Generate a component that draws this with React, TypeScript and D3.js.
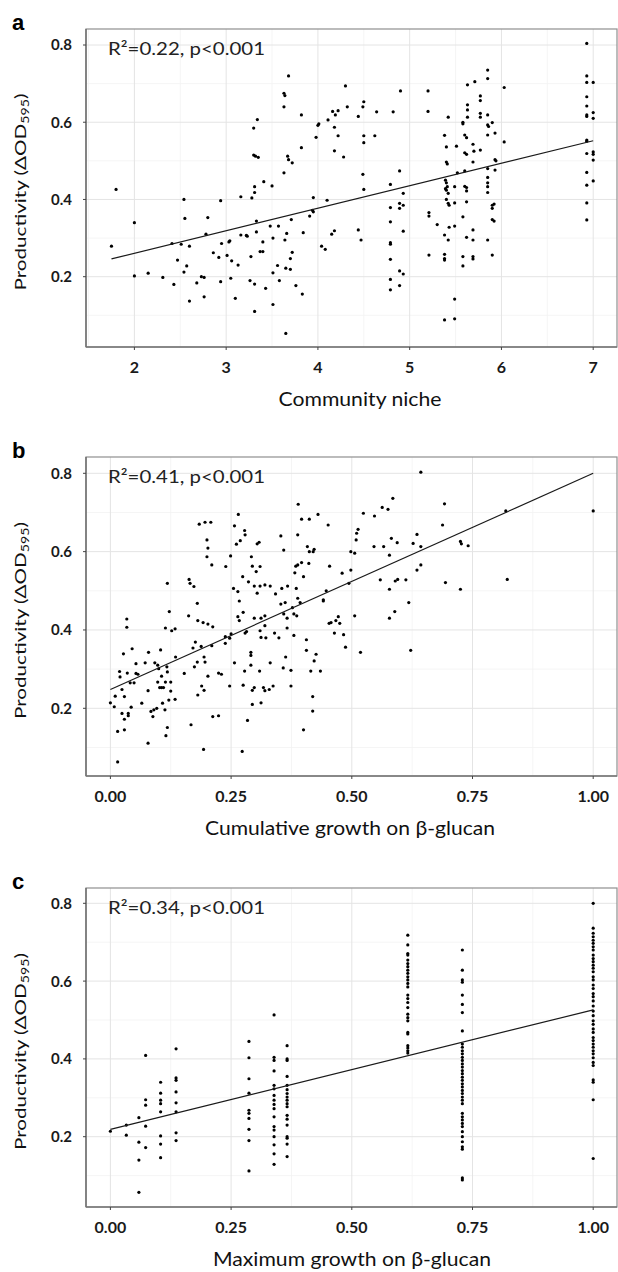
import * as d3 from "d3";

// ---- data ----
const nicheTicks = [2, 3, 4, 5, 6, 7];
const growthTicks = [0, 0.25, 0.5, 0.75, 1];
const yTicks = [0.2, 0.4, 0.6, 0.8];

// panel a: community niche vs productivity
const nicheData: [number, number][] = [
  [6.93,0.804],[3.68,0.72],[3.63,0.675],[3.64,0.669],[3.63,0.64],[3.30,0.585],[3.34,0.607],[3.82,0.619],[4.0,0.592],[4.01,0.596],
  [3.98,0.561],[4.11,0.606],[4.16,0.628],[4.19,0.619],[4.22,0.63],[4.18,0.587],[4.22,0.565],[4.30,0.694],[4.32,0.64],[4.44,0.615],
  [4.49,0.64],[4.50,0.653],[4.50,0.565],[4.62,0.565],[4.64,0.627],[4.82,0.627],[4.90,0.681],[5.20,0.681],[5.20,0.628],[5.38,0.566],
  [5.42,0.613],[5.58,0.60],[5.58,0.596],[5.60,0.567],[5.62,0.56],[5.63,0.697],[5.63,0.645],[5.63,0.632],[5.63,0.613],[5.71,0.705],
  [5.77,0.668],[5.77,0.656],[5.77,0.623],[5.77,0.613],[5.85,0.735],[5.85,0.713],[5.85,0.619],[5.85,0.593],[5.86,0.589],[5.85,0.567],
  [5.90,0.599],[5.93,0.572],[6.03,0.69],[6.93,0.72],[6.93,0.703],[7.0,0.703],[6.93,0.666],[6.93,0.642],[6.93,0.619],[6.93,0.615],
  [7.0,0.625],[7.0,0.61],[6.93,0.554],
  [1.75,0.279],[1.80,0.426],[2.0,0.34],[2.0,0.202],[2.15,0.209],[2.31,0.198],[2.41,0.286],[2.43,0.18],[2.47,0.243],[2.51,0.284],
  [2.54,0.40],[2.55,0.351],[2.54,0.212],[2.57,0.228],[2.60,0.279],[2.60,0.137],[2.68,0.184],[2.73,0.20],[2.76,0.198],[2.76,0.148],
  [2.78,0.31],[2.80,0.353],[2.86,0.262],[2.92,0.25],[2.94,0.397],[2.94,0.187],[2.95,0.286],[3.01,0.255],[3.03,0.29],[3.04,0.293],
  [3.05,0.196],[3.06,0.241],[3.10,0.144],[3.13,0.23],[3.16,0.407],[3.16,0.308],[3.22,0.307],[3.23,0.305],[3.27,0.252],[3.26,0.19],
  [3.28,0.404],[3.31,0.418],[3.31,0.433],[3.30,0.515],[3.32,0.512],[3.35,0.509],[3.31,0.181],[3.31,0.11],[3.33,0.344],[3.33,0.316],
  [3.37,0.265],[3.40,0.265],[3.40,0.29],[3.41,0.446],[3.43,0.17],[3.48,0.331],[3.50,0.435],[3.51,0.30],[3.51,0.128],[3.51,0.21],
  [3.56,0.229],[3.57,0.331],[3.58,0.19],[3.63,0.469],[3.64,0.295],[3.66,0.312],[3.65,0.222],[3.70,0.219],[3.67,0.512],[3.68,0.503],
  [3.72,0.495],[3.70,0.247],[3.71,0.348],[3.72,0.263],[3.76,0.177],[3.82,0.534],[3.83,0.155],[3.84,0.314],[3.91,0.357],[3.94,0.372],
  [3.95,0.368],[3.95,0.405],[4.04,0.279],[4.08,0.271],[4.10,0.398],[4.15,0.31],[4.18,0.319],[4.18,0.526],[4.28,0.51],[4.44,0.321],
  [4.47,0.295],[4.49,0.465],[4.50,0.426],[4.50,0.547],[4.79,0.439],[4.79,0.379],[4.79,0.342],[4.79,0.288],[4.79,0.284],[4.79,0.245],
  [4.79,0.193],[4.79,0.166],[4.89,0.474],[4.89,0.39],[4.89,0.377],[4.93,0.385],[4.93,0.416],[4.93,0.318],[4.89,0.215],[4.93,0.207],
  [4.89,0.177],[5.21,0.366],[5.21,0.357],[5.21,0.256],[5.30,0.335],[5.40,0.536],[5.40,0.497],[5.41,0.492],[5.39,0.45],[5.40,0.443],
  [5.41,0.433],[5.39,0.428],[5.40,0.424],[5.42,0.416],[5.40,0.40],[5.42,0.39],[5.43,0.385],[5.38,0.308],[5.42,0.295],[5.43,0.328],
  [5.38,0.258],[5.38,0.247],[5.38,0.243],[5.38,0.088],[5.49,0.091],[5.49,0.142],[5.49,0.331],[5.49,0.433],[5.49,0.391],[5.51,0.538],
  [5.52,0.469],[5.58,0.355],[5.58,0.252],[5.58,0.228],[5.60,0.521],[5.62,0.517],[5.60,0.474],[5.60,0.434],[5.62,0.431],[5.62,0.422],
  [5.62,0.394],[5.62,0.302],[5.69,0.543],[5.70,0.525],[5.69,0.497],[5.69,0.321],[5.69,0.295],[5.69,0.252],[5.69,0.246],[5.77,0.528],
  [5.85,0.48],[5.85,0.457],[5.85,0.443],[5.85,0.433],[5.85,0.418],[5.85,0.295],[5.90,0.256],[5.90,0.385],[5.90,0.377],[5.92,0.388],
  [5.90,0.348],[5.92,0.344],[5.93,0.503],[5.94,0.50],[5.93,0.476],[6.03,0.549],[6.93,0.551],[6.93,0.519],[7.0,0.523],[7.0,0.517],
  [7.0,0.502],[6.93,0.47],[6.93,0.437],[7.0,0.448],[6.93,0.391],[6.93,0.347],[3.65,0.053],
];

// panel b: cumulative growth on beta-glucan
const cumulativeData: [number, number][] = [
  [0.643,0.803],[1.0,0.704],[0.819,0.704],[0.822,0.529],[0.692,0.722],[0.688,0.668],[0.694,0.521],[0.725,0.504],[0.725,0.626],[0.727,0.62],
  [0.741,0.615],[0.585,0.736],[0.563,0.713],[0.575,0.708],[0.547,0.691],[0.524,0.698],[0.546,0.613],[0.566,0.613],[0.582,0.634],[0.594,0.623],
  [0.578,0.591],[0.559,0.528],[0.578,0.504],[0.590,0.525],[0.595,0.529],[0.612,0.528],[0.627,0.621],[0.635,0.644],[0.643,0.613],[0.635,0.553],
  [0.643,0.566],[0.509,0.63],[0.513,0.657],[0.510,0.647],[0.498,0.60],[0.506,0.596],[0.494,0.519],[0.480,0.545],[0.498,0.553],[0.430,0.695],
  [0.451,0.668],[0.454,0.563],[0.389,0.721],[0.396,0.683],[0.412,0.683],[0.388,0.643],[0.396,0.572],[0.400,0.536],[0.408,0.613],[0.412,0.60],
  [0.422,0.606],[0.420,0.60],[0.411,0.57],[0.384,0.563],[0.388,0.566],[0.382,0.546],[0.385,0.506],[0.388,0.481],[0.441,0.477],[0.447,0.50],
  [0.353,0.64],[0.359,0.604],[0.355,0.506],[0.367,0.512],[0.342,0.492],[0.331,0.512],[0.310,0.512],[0.265,0.695],[0.257,0.666],[0.261,0.619],
  [0.269,0.628],[0.278,0.654],[0.279,0.643],[0.249,0.589],[0.255,0.506],[0.264,0.498],[0.274,0.536],[0.286,0.523],[0.292,0.587],[0.294,0.563],
  [0.302,0.549],[0.310,0.562],[0.304,0.62],[0.308,0.624],[0.298,0.512],[0.304,0.494],[0.320,0.515],[0.239,0.562],[0.196,0.675],[0.208,0.675],
  [0.20,0.63],[0.202,0.609],[0.20,0.587],[0.210,0.566],[0.184,0.67],[0.118,0.519],[0.163,0.529],[0.165,0.519],[0.173,0.511],
  [0.015,0.063],[0.0,0.214],[0.008,0.204],[0.010,0.231],[0.015,0.141],[0.019,0.294],[0.020,0.28],[0.024,0.248],[0.027,0.339],[0.029,0.23],
  [0.024,0.187],[0.029,0.172],[0.029,0.145],[0.034,0.428],[0.034,0.407],[0.035,0.29],[0.037,0.187],[0.037,0.181],[0.041,0.265],[0.045,0.352],
  [0.043,0.203],[0.049,0.265],[0.053,0.314],[0.053,0.289],[0.057,0.287],[0.065,0.213],[0.072,0.316],[0.079,0.343],[0.078,0.245],[0.078,0.111],
  [0.084,0.192],[0.090,0.196],[0.088,0.179],[0.092,0.316],[0.096,0.20],[0.098,0.267],[0.098,0.31],[0.100,0.301],[0.102,0.253],[0.106,0.253],
  [0.104,0.349],[0.106,0.282],[0.108,0.213],[0.110,0.253],[0.113,0.196],[0.114,0.405],[0.114,0.267],[0.115,0.13],[0.117,0.306],[0.118,0.293],
  [0.118,0.151],[0.121,0.221],[0.122,0.447],[0.125,0.267],[0.125,0.244],[0.127,0.398],[0.134,0.403],[0.135,0.331],[0.134,0.223],[0.153,0.289],
  [0.162,0.436],[0.167,0.158],[0.171,0.354],[0.176,0.369],[0.174,0.306],[0.180,0.318],[0.180,0.468],[0.181,0.424],[0.181,0.234],[0.188,0.358],
  [0.189,0.257],[0.194,0.246],[0.192,0.419],[0.193,0.095],[0.196,0.318],[0.194,0.331],[0.202,0.415],[0.202,0.282],[0.210,0.36],[0.212,0.408],
  [0.212,0.179],[0.224,0.181],[0.224,0.29],[0.230,0.287],[0.238,0.366],[0.238,0.383],[0.247,0.379],[0.250,0.39],[0.247,0.257],[0.257,0.316],
  [0.264,0.434],[0.267,0.474],[0.267,0.424],[0.273,0.09],[0.275,0.445],[0.275,0.259],[0.278,0.295],[0.279,0.392],[0.282,0.396],[0.284,0.169],
  [0.291,0.343],[0.291,0.335],[0.291,0.31],[0.294,0.246],[0.298,0.253],[0.294,0.21],[0.298,0.43],[0.309,0.295],[0.310,0.398],[0.312,0.43],
  [0.312,0.381],[0.312,0.214],[0.317,0.253],[0.320,0.245],[0.320,0.436],[0.320,0.411],[0.322,0.38],[0.329,0.248],[0.331,0.316],[0.337,0.257],
  [0.340,0.392],[0.349,0.38],[0.353,0.466],[0.358,0.303],[0.359,0.441],[0.362,0.47],[0.363,0.331],[0.366,0.43],[0.366,0.405],[0.374,0.257],
  [0.374,0.297],[0.377,0.457],[0.380,0.441],[0.380,0.386],[0.386,0.436],[0.393,0.47],[0.400,0.145],[0.406,0.375],[0.406,0.348],[0.415,0.295],
  [0.419,0.23],[0.419,0.193],[0.422,0.321],[0.426,0.338],[0.435,0.295],[0.441,0.474],[0.453,0.417],[0.457,0.419],[0.467,0.424],[0.464,0.392],
  [0.472,0.434],[0.475,0.417],[0.483,0.388],[0.487,0.356],[0.506,0.436],[0.518,0.343],[0.578,0.43],[0.589,0.447],[0.618,0.47],[0.622,0.348],
];

// panel c: maximum growth on beta-glucan (discrete levels)
const maxGrowthLevels = [0, 0.033, 0.059, 0.073, 0.104, 0.136, 0.287, 0.339, 0.366, 0.616, 0.729, 1.0];
const maxGrowthValues: number[][] = [
  [0.214],
  [0.230, 0.204],
  [0.249, 0.186, 0.140, 0.057],
  [0.409, 0.295, 0.281, 0.227, 0.172],
  [0.340, 0.312, 0.294, 0.285, 0.264, 0.202, 0.181, 0.146],
  [0.426, 0.351, 0.345, 0.315, 0.287, 0.264, 0.210, 0.190],
  [0.445, 0.403, 0.349, 0.312, 0.268, 0.260, 0.247, 0.219, 0.190, 0.112],
  [0.513, 0.404, 0.396, 0.369, 0.332, 0.323, 0.306, 0.294, 0.283, 0.272, 0.251, 0.226, 0.217, 0.200, 0.179, 0.156, 0.129],
  [0.434, 0.400, 0.396, 0.355, 0.332, 0.321, 0.311, 0.302, 0.294, 0.285, 0.277, 0.255, 0.245, 0.230, 0.200, 0.196, 0.181, 0.149],
  [0.718, 0.693, 0.671, 0.667, 0.654, 0.645, 0.637, 0.628, 0.620, 0.611, 0.603, 0.594, 0.585, 0.564, 0.555, 0.545, 0.532, 0.515,
   0.506, 0.498, 0.468, 0.464, 0.434, 0.428, 0.421, 0.415],
  [0.680, 0.628, 0.603, 0.597, 0.564, 0.540, 0.519, 0.472, 0.438, 0.430, 0.421, 0.413, 0.404, 0.396, 0.387, 0.379, 0.370, 0.362,
   0.353, 0.345, 0.336, 0.328, 0.319, 0.311, 0.302, 0.294, 0.285, 0.260, 0.251, 0.243, 0.234, 0.226, 0.213, 0.200, 0.187, 0.174,
   0.168, 0.094, 0.089],
  [0.800, 0.736, 0.723, 0.714, 0.705, 0.697, 0.688, 0.680, 0.667, 0.658, 0.650, 0.641, 0.633, 0.624, 0.611, 0.603, 0.590, 0.581,
   0.568, 0.560, 0.549, 0.536, 0.523, 0.511, 0.498, 0.489, 0.477, 0.468, 0.455, 0.447, 0.438, 0.430, 0.421, 0.413, 0.403, 0.391,
   0.383, 0.346, 0.340, 0.295, 0.144],
];
const maxGrowthData: [number, number][] = maxGrowthLevels.flatMap((x, i) =>
  maxGrowthValues[i].map((y) => [x, y] as [number, number])
);

// regression lines (end points)
const nicheFit: [number, number][] = [[1.75, 0.246], [7, 0.552]];
const cumulativeFit: [number, number][] = [[0, 0.248], [1, 0.8]];
const maxGrowthFit: [number, number][] = [[0, 0.219], [1, 0.526]];

const r2Labels = ["0.22", "0.41", "0.34"];
const panelLetters = ["a", "b", "c"];
const xTitles = ["Community niche", "Cumulative growth on β-glucan", "Maximum growth on β-glucan"];

// ---- layout ----
const W = 618;
const H = 1272;
const FONT = "Lato, 'Open Sans', sans-serif";
const LEFT = 86;
const RIGHT = 617;

const panels = [
  { top: 29, bottom: 347, y02: 276.7, y08: 45, data: nicheData, fit: nicheFit,
    xDomain: [2, 7], xRange: [134.4, 593.2], ticks: nicheTicks, minor: [1.5, 2.5, 3.5, 4.5, 5.5, 6.5],
    fmt: (d: number) => String(d), titleX: 360, titleLen: 163 },
  { top: 457, bottom: 776, y02: 708.3, y08: 473.3, data: cumulativeData, fit: cumulativeFit,
    xDomain: [0, 1], xRange: [110.4, 593.2], ticks: growthTicks, minor: [0.125, 0.375, 0.625, 0.875],
    fmt: d3.format(".2f"), titleX: 350, titleLen: 290 },
  { top: 888, bottom: 1207, y02: 1136.7, y08: 903.3, data: maxGrowthData, fit: maxGrowthFit,
    xDomain: [0, 1], xRange: [110.4, 593.2], ticks: growthTicks, minor: [0.125, 0.375, 0.625, 0.875],
    fmt: d3.format(".2f"), titleX: 352, titleLen: 278 },
];
const yMinor = [0.1, 0.3, 0.5, 0.7];

function Panel({ p, i }: { p: (typeof panels)[number]; i: number }) {
  const x = d3.scaleLinear().domain(p.xDomain).range(p.xRange);
  const y = d3.scaleLinear().domain([0.2, 0.8]).range([p.y02, p.y08]);
  const line = d3.line<[number, number]>().x((d) => x(d[0])).y((d) => y(d[1]));
  const inY = (v: number) => y(v) > p.top && y(v) < p.bottom;
  const midY = (p.top + p.bottom) / 2;

  return (
    <g>
      <defs>
        <clipPath id={`clip${i}`}>
          <rect x={LEFT} y={p.top} width={RIGHT - LEFT} height={p.bottom - p.top} />
        </clipPath>
      </defs>
      {/* grid */}
      {p.minor.map((v) => (
        <line key={"xm" + v} x1={x(v)} x2={x(v)} y1={p.top} y2={p.bottom} stroke="#f2f2f2" strokeWidth={0.8} />
      ))}
      {yMinor.filter(inY).map((v) => (
        <line key={"ym" + v} x1={LEFT} x2={RIGHT} y1={y(v)} y2={y(v)} stroke="#f2f2f2" strokeWidth={0.8} />
      ))}
      {p.ticks.map((v) => (
        <line key={"xg" + v} x1={x(v)} x2={x(v)} y1={p.top} y2={p.bottom} stroke="#e4e4e4" strokeWidth={1} />
      ))}
      {yTicks.map((v) => (
        <line key={"yg" + v} x1={LEFT} x2={RIGHT} y1={y(v)} y2={y(v)} stroke="#e4e4e4" strokeWidth={1} />
      ))}

      <g clipPath={`url(#clip${i})`}>
        {p.data.map((d, k) => (
          <circle key={k} cx={x(d[0])} cy={y(d[1])} r={1.6} fill="#000" />
        ))}
        <path d={line(p.fit) || ""} fill="none" stroke="#1a1a1a" strokeWidth={1.2} />
      </g>

      {/* frame */}
      <rect x={LEFT} y={p.top} width={RIGHT - LEFT} height={p.bottom - p.top} fill="none" stroke="#8f8f8f" strokeWidth={1.2} />
      <line x1={LEFT} x2={LEFT} y1={p.top} y2={p.bottom} stroke="#666" strokeWidth={1.3} />
      <line x1={LEFT} x2={RIGHT} y1={p.bottom} y2={p.bottom} stroke="#777" strokeWidth={1.5} />

      {/* y axis */}
      {yTicks.map((v) => (
        <g key={"yt" + v}>
          <line x1={LEFT - 3} x2={LEFT} y1={y(v)} y2={y(v)} stroke="#444" />
          <text x={72} y={y(v)} dy="0.36em" textAnchor="end" fontFamily={FONT} fontWeight={700}
            fontSize={15} fill="#1a1a1a">{v.toFixed(1)}</text>
        </g>
      ))}
      {/* x axis */}
      {p.ticks.map((v) => (
        <g key={"xt" + v}>
          <line x1={x(v)} x2={x(v)} y1={p.bottom} y2={p.bottom + 3} stroke="#444" />
          <text x={x(v)} y={p.bottom + 25.5} textAnchor="middle" fontFamily={FONT} fontWeight={700}
            fontSize={16} fill="#1a1a1a">{p.fmt(v)}</text>
        </g>
      ))}

      <text x={p.titleX} y={p.bottom + 59} textAnchor="middle" fontFamily={FONT} fontSize={20} fill="#111"
        textLength={p.titleLen} lengthAdjust="spacingAndGlyphs">
        {xTitles[i]}
      </text>
      <text transform={`translate(26,${midY + 4}) rotate(-90)`} textAnchor="middle" fontFamily={FONT} fontSize={16}
        fill="#111" textLength={197} lengthAdjust="spacingAndGlyphs">
        Productivity (ΔOD<tspan fontSize={11} dy={3}>595</tspan><tspan dy={-3}>)</tspan>
      </text>

      <text x={108} y={p.top + 26} fontFamily={FONT} fontSize={17.5} fill="#222"
        textLength={157} lengthAdjust="spacingAndGlyphs">
        R²={r2Labels[i]}, p&lt;0.001
      </text>
      <text x={12} y={p.top + 1} fontFamily="'Liberation Sans', Arial, sans-serif" fontWeight={700} fontSize={22} fill="#000">
        {panelLetters[i]}
      </text>
    </g>
  );
}

export default function App() {
  return (
    <div style={{ position: "absolute", left: 0, top: 0, background: "#fff" }}>
      <svg width={W} height={H} viewBox={`0 0 ${W} ${H}`}>
        <rect width={W} height={H} fill="#fff" />
        {panels.map((p, i) => (
          <Panel key={i} p={p} i={i} />
        ))}
      </svg>
    </div>
  );
}
